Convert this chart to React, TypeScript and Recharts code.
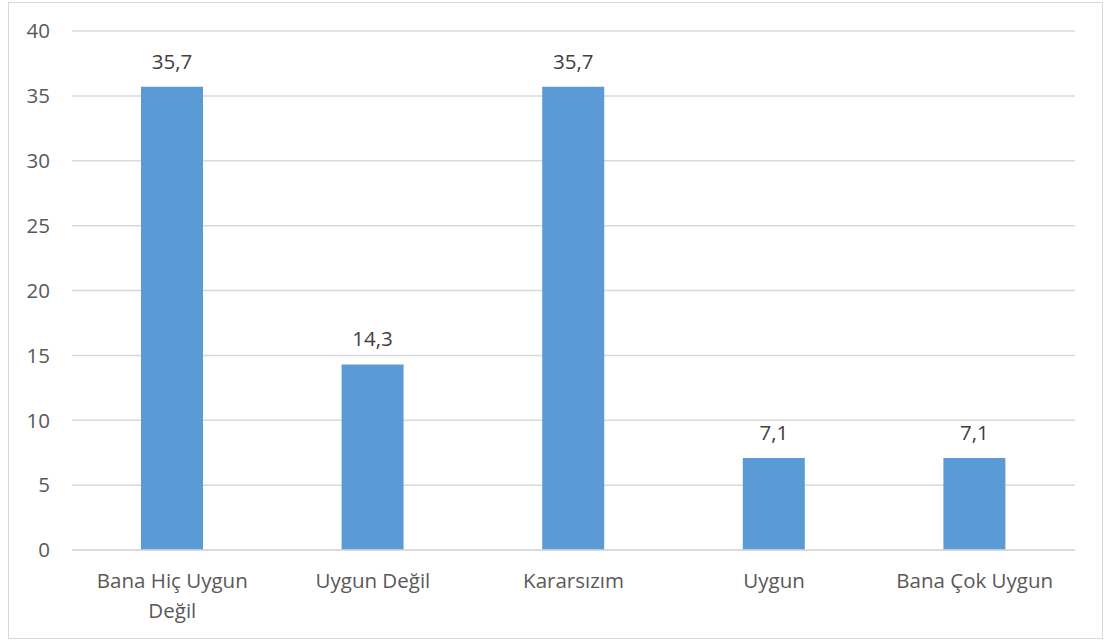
import { BarChart, Bar, XAxis, YAxis, CartesianGrid, LabelList } from "recharts"

const categories = ["Bana Hiç Uygun Değil", "Uygun Değil", "Kararsızım", "Uygun", "Bana Çok Uygun"]
const tickLines = [["Bana Hiç Uygun", "Değil"], ["Uygun Değil"], ["Kararsızım"], ["Uygun"], ["Bana Çok Uygun"]]
const values = [35.7, 14.3, 35.7, 7.1, 7.1]
const yTicks = [0, 5, 10, 15, 20, 25, 30, 35, 40]

const data = categories.map((name, i) => ({ name, value: values[i] }))

const FONT = "'Open Sans', 'Liberation Sans', sans-serif"
const TEXT_COLOR = "#595959"
const FONT_SIZE = 20.5

const CategoryTick = (props: any) => {
  const { x, y, payload } = props
  const idx = categories.indexOf(payload.value)
  const lines = idx >= 0 ? tickLines[idx] : [payload.value]
  return (
    <text
      x={x}
      y={y + 38}
      textAnchor="middle"
      fill={TEXT_COLOR}
      style={{ fontSize: FONT_SIZE, fontFamily: FONT }}
    >
      {lines.map((line: string, i: number) => (
        <tspan key={i} x={x} dy={i === 0 ? 0 : 30}>
          {line}
        </tspan>
      ))}
    </text>
  )
}

export default function App() {
  return (
    <div style={{ position: "absolute", left: 0, top: 0, width: 1105, height: 641, background: "#fff" }}>
      <div
        style={{
          position: "absolute",
          left: 8,
          top: 2,
          width: 1093,
          height: 635,
          border: "1px solid #D9D9D9",
        }}
      />
      <div style={{ position: "absolute", left: 0, top: 0 }}>
        <BarChart
          width={1105}
          height={641}
          data={data}
          margin={{ top: 31, right: 30, left: 0, bottom: 31 }}
        >
          <CartesianGrid vertical={false} stroke="#D9D9D9" strokeWidth={1.5} />
          <XAxis
            dataKey="name"
            axisLine={{ stroke: "#D9D9D9", strokeWidth: 1.5 }}
            tickLine={false}
            tickSize={0}
            tickMargin={0}
            height={60}
            interval={0}
            tick={<CategoryTick />}
          />
          <YAxis
            domain={[0, 40]}
            ticks={yTicks}
            width={72}
            axisLine={false}
            tickLine={false}
            tickSize={0}
            tickMargin={22}
            tick={{ fill: TEXT_COLOR, fontSize: FONT_SIZE, fontFamily: FONT }}
          />
          <Bar dataKey="value" fill="#5B9BD5" barSize={62} isAnimationActive={false}>
            <LabelList
              dataKey="value"
              position="top"
              offset={18}
              formatter={(v: any) => String(v).replace(".", ",")}
              style={{ fill: "#404040", fontSize: FONT_SIZE, fontFamily: FONT }}
            />
          </Bar>
        </BarChart>
      </div>
    </div>
  )
}
